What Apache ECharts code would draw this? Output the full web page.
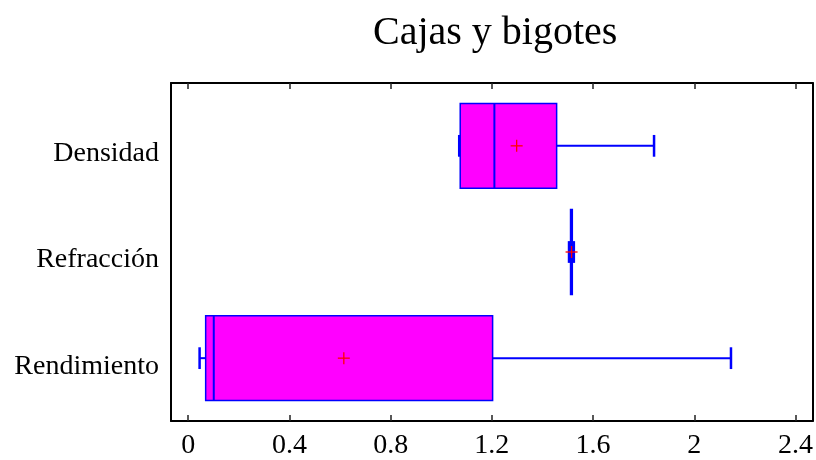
<!DOCTYPE html>
<html>
<head>
<meta charset="utf-8">
<title>Cajas y bigotes</title>
<script src="https://cdn.jsdelivr.net/npm/echarts@6/dist/echarts.min.js"></script>
<style>
  html, body { margin: 0; padding: 0; background: #fff; }
  #chart { width: 816px; height: 460px; }
</style>
</head>
<body>
<div id="chart"></div>
<script>
// Variables, listed from bottom row (y = 1) to top row (y = 3)
const categories   = ['Rendimiento', 'Refracción', 'Densidad'];
const lowWhisker   = [0.045, 1.505, 1.071];
const quartile1    = [0.069, 1.511, 1.075];
const medians      = [0.101, 1.514, 1.210];
const quartile3    = [1.203, 1.518, 1.456];
const highWhisker  = [2.145, 1.524, 1.841];
const means        = [0.615, 1.515, 1.298];
const xTickValues  = [0, 0.4, 0.8, 1.2, 1.6, 2, 2.4];
const rowValues    = [1, 2, 3];

const FONT = '"Liberation Serif", "Times New Roman", serif';
const BOX_FILL = '#ff00ff';
const BOX_EDGE = '#0000ff';
const MEAN_COLOR = '#ff0000';

const boxData = categories.map((name, i) => [
  rowValues[i], lowWhisker[i], quartile1[i], medians[i], quartile3[i], highWhisker[i], means[i]
]);

function renderBox(params, api) {
  const row = api.value(0);
  const pLo  = api.coord([api.value(1), row]);
  const pQ1  = api.coord([api.value(2), row]);
  const pMed = api.coord([api.value(3), row]);
  const pQ3  = api.coord([api.value(4), row]);
  const pHi  = api.coord([api.value(5), row]);
  const pAvg = api.coord([api.value(6), row]);
  const boxH = api.size([0, 0.8])[1];
  const capH = api.size([0, 0.205])[1];
  const yc = pQ1[1];
  const line = (x1, y1, x2, y2, color, w) => ({
    type: 'line',
    shape: { x1, y1, x2, y2 },
    style: { stroke: color, lineWidth: w }
  });
  const cross = 6;
  return {
    type: 'group',
    children: [
      line(pLo[0], yc, pQ1[0], yc, BOX_EDGE, 2),
      line(pQ3[0], yc, pHi[0], yc, BOX_EDGE, 2),
      line(pLo[0], yc - capH / 2, pLo[0], yc + capH / 2, BOX_EDGE, 2.5),
      line(pHi[0], yc - capH / 2, pHi[0], yc + capH / 2, BOX_EDGE, 2.5),
      {
        type: 'rect',
        shape: { x: pQ1[0], y: yc - boxH / 2, width: pQ3[0] - pQ1[0], height: boxH },
        style: { fill: BOX_FILL, stroke: BOX_EDGE, lineWidth: 1.5 }
      },
      line(pMed[0], yc - boxH / 2, pMed[0], yc + boxH / 2, BOX_EDGE, 2),
      line(pAvg[0] - cross, pAvg[1], pAvg[0] + cross, pAvg[1], MEAN_COLOR, 1.3),
      line(pAvg[0], pAvg[1] - cross, pAvg[0], pAvg[1] + cross, MEAN_COLOR, 1.3)
    ]
  };
}

const frameLine = { show: true, onZero: false, lineStyle: { color: '#000', width: 2 } };
const inwardTicks = {
  show: true, inside: true, length: 6,
  customValues: xTickValues,
  lineStyle: { color: '#222', width: 1.5 }
};

const chart = echarts.init(document.getElementById('chart'), null, { renderer: 'canvas' });
chart.setOption({
  animation: false,
  backgroundColor: '#fff',
  title: {
    text: 'Cajas y bigotes',
    left: 373,
    top: 13,
    padding: 0,
    textStyle: { fontFamily: FONT, fontSize: 40, fontWeight: 'normal', color: '#000' }
  },
  grid: { left: 171, right: 2, top: 83, bottom: 38, containLabel: false },
  xAxis: [
    {
      type: 'value', position: 'bottom',
      min: -0.068, max: 2.468,
      axisLine: frameLine,
      axisTick: inwardTicks,
      axisLabel: {
        show: true, margin: 11,
        customValues: xTickValues,
        fontFamily: FONT, fontSize: 28, color: '#000',
        formatter: v => String(v)
      },
      splitLine: { show: false }
    },
    {
      type: 'value', position: 'top',
      min: -0.068, max: 2.468,
      axisLine: frameLine,
      axisTick: inwardTicks,
      axisLabel: { show: false },
      splitLine: { show: false }
    }
  ],
  yAxis: [
    {
      type: 'value', position: 'left',
      min: 0.408, max: 3.592,
      axisLine: frameLine,
      axisTick: { show: false },
      axisLabel: {
        show: true, margin: 12,
        customValues: rowValues,
        fontFamily: FONT, fontSize: 28, color: '#000',
        verticalAlign: 'top',
        lineHeight: 16,
        formatter: v => categories[Math.round(v) - 1] || ''
      },
      splitLine: { show: false }
    },
    {
      type: 'value', position: 'right',
      min: 0.408, max: 3.592,
      axisLine: frameLine,
      axisTick: { show: false },
      axisLabel: { show: false },
      splitLine: { show: false }
    }
  ],
  series: [
    {
      type: 'custom',
      xAxisIndex: 0,
      yAxisIndex: 0,
      renderItem: renderBox,
      encode: { x: [1, 2, 3, 4, 5, 6], y: 0 },
      data: boxData,
      silent: true
    }
  ]
});
</script>
</body>
</html>
